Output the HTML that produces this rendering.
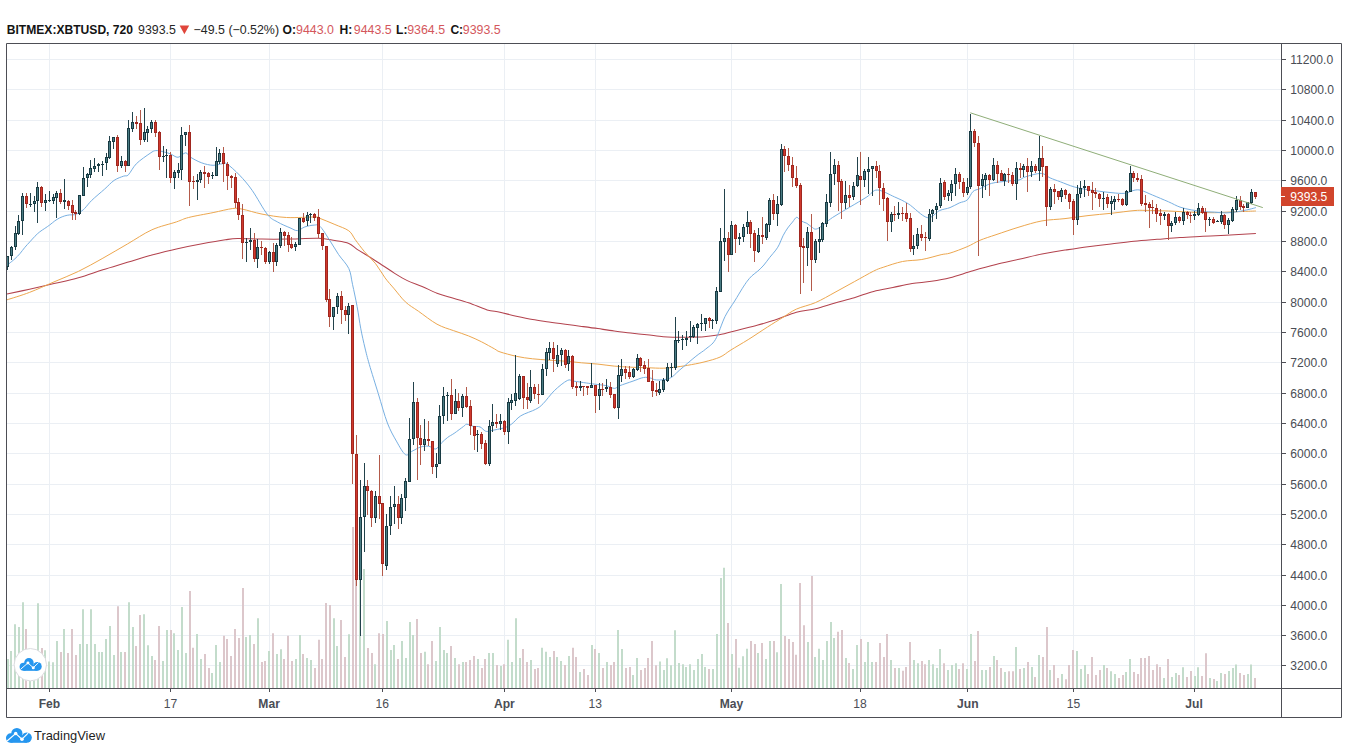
<!DOCTYPE html><html><head><meta charset="utf-8"><style>
*{margin:0;padding:0}
html,body{width:1348px;height:754px;background:#fff;overflow:hidden}
body{position:relative;font-family:"Liberation Sans",sans-serif}
svg{position:absolute;left:0;top:0}
.g{stroke:#ebeff4;stroke-width:1}
.vu{stroke:#c3dccb;stroke-width:2;fill:none}
.vd{stroke:#dcc7cb;stroke-width:2;fill:none}
.mr{stroke:#b3434e;stroke-width:1.05;fill:none}
.mo{stroke:#eda74f;stroke-width:1;fill:none}
.mb{stroke:#78b0e2;stroke-width:1;fill:none}
.wu{stroke:#22424b;stroke-width:1;fill:none}
.wd{stroke:#b35a4a;stroke-width:1;fill:none}
.bu{fill:#183a42}
.bd{fill:#a0271f}
.iu{fill:#4a7c84}
.id{fill:#d0392d}
.tl{stroke:#8fae78;stroke-width:1}
.fr{stroke:#4d4e55;stroke-width:1;fill:none}
.tk{stroke:#4d4e55;stroke-width:1}
.al{font-size:12.1px;fill:#4a4d55}
.tl2{font-size:12.1px;fill:#4a4d55}
.b{font-weight:bold}
.hd{position:absolute;top:22px;font-size:12.4px;line-height:16px;white-space:nowrap;color:#262626}
.hb{font-weight:bold;font-size:12.1px;color:#141414}
.r{color:#d4575c}
.tv{position:absolute;left:34px;top:727.5px;font-size:12.9px;line-height:16px;color:#1f1f1f}
</style></head><body><svg width="1348" height="754" viewBox="0 0 1348 754"><line x1="7" y1="59.5" x2="1281" y2="59.5" class="g"/><line x1="7" y1="89.5" x2="1281" y2="89.5" class="g"/><line x1="7" y1="120.5" x2="1281" y2="120.5" class="g"/><line x1="7" y1="150.5" x2="1281" y2="150.5" class="g"/><line x1="7" y1="180.5" x2="1281" y2="180.5" class="g"/><line x1="7" y1="211.5" x2="1281" y2="211.5" class="g"/><line x1="7" y1="241.5" x2="1281" y2="241.5" class="g"/><line x1="7" y1="271.5" x2="1281" y2="271.5" class="g"/><line x1="7" y1="302.5" x2="1281" y2="302.5" class="g"/><line x1="7" y1="332.5" x2="1281" y2="332.5" class="g"/><line x1="7" y1="362.5" x2="1281" y2="362.5" class="g"/><line x1="7" y1="393.5" x2="1281" y2="393.5" class="g"/><line x1="7" y1="423.5" x2="1281" y2="423.5" class="g"/><line x1="7" y1="453.5" x2="1281" y2="453.5" class="g"/><line x1="7" y1="484.5" x2="1281" y2="484.5" class="g"/><line x1="7" y1="514.5" x2="1281" y2="514.5" class="g"/><line x1="7" y1="544.5" x2="1281" y2="544.5" class="g"/><line x1="7" y1="575.5" x2="1281" y2="575.5" class="g"/><line x1="7" y1="605.5" x2="1281" y2="605.5" class="g"/><line x1="7" y1="635.5" x2="1281" y2="635.5" class="g"/><line x1="7" y1="665.5" x2="1281" y2="665.5" class="g"/><line x1="49.5" y1="44" x2="49.5" y2="688" class="g"/><line x1="170.5" y1="44" x2="170.5" y2="688" class="g"/><line x1="269.5" y1="44" x2="269.5" y2="688" class="g"/><line x1="382.5" y1="44" x2="382.5" y2="688" class="g"/><line x1="504.5" y1="44" x2="504.5" y2="688" class="g"/><line x1="595.5" y1="44" x2="595.5" y2="688" class="g"/><line x1="731.5" y1="44" x2="731.5" y2="688" class="g"/><line x1="860.5" y1="44" x2="860.5" y2="688" class="g"/><line x1="967.5" y1="44" x2="967.5" y2="688" class="g"/><line x1="1073.5" y1="44" x2="1073.5" y2="688" class="g"/><line x1="1194.5" y1="44" x2="1194.5" y2="688" class="g"/><path d="M8,688V659.0M11,688V651.0M15,688V624.2M19,688V627.1M23,688V602.2M30,688V660.0M34,688V662.0M38,688V603.3M45,688V650.3M49,688V661.4M53,688V662.3M57,688V641.1M64,688V629.1M80,688V644.1M83,688V609.2M87,688V644.1M91,688V609.2M95,688V644.1M99,688V652.1M102,688V652.1M106,688V639.1M110,688V626.1M114,688V655.0M121,688V652.1M129,688V602.2M133,688V627.1M144,688V614.3M148,688V645.2M152,688V655.9M163,688V661.0M167,688V630.0M174,688V633.2M178,688V650.0M182,688V607.0M186,688V652.9M197,688V634.0M201,688V659.1M212,688V673.1M216,688V644.9M220,688V662.0M246,688V636.9M250,688V635.1M258,688V618.2M269,688V651.0M277,688V654.1M281,688V649.3M296,688V659.1M300,688V635.1M307,688V658.0M311,688V660.0M334,688V618.2M337,688V645.9M349,688V634.3M360,688V535.0M364,688V569.0M375,688V664.2M387,688V621.1M391,688V650.0M394,688V644.9M402,688V641.0M406,688V658.0M410,688V622.0M413,688V635.1M425,688V651.8M436,688V661.0M440,688V627.0M444,688V650.0M447,688V652.9M455,688V658.0M463,688V662.0M478,688V659.1M489,688V652.9M493,688V652.9M501,688V666.1M508,688V639.8M512,688V662.0M516,688V618.2M520,688V658.0M531,688V660.0M542,688V647.8M546,688V651.8M550,688V656.9M557,688V657.0M561,688V661.0M569,688V655.9M580,688V671.9M592,688V644.9M599,688V652.9M607,688V662.0M618,688V629.9M622,688V648.9M633,688V675.1M637,688V658.0M660,688V661.4M664,688V670.0M667,688V658.3M671,688V665.2M675,688V630.3M679,688V663.1M683,688V664.3M686,688V666.9M690,688V664.3M694,688V670.0M698,688V659.1M702,688V654.0M705,688V666.9M713,688V669.0M717,688V634.1M721,688V578.1M724,688V567.8M732,688V654.0M739,688V667.8M743,688V656.2M747,688V648.8M758,688V653.1M766,688V659.1M770,688V641.0M777,688V652.2M781,688V584.1M808,688V641.9M815,688V656.9M819,688V648.8M823,688V660.0M827,688V641.0M831,688V622.0M834,688V638.1M846,688V658.0M853,688V669.0M857,688V644.9M865,688V662.0M868,688V642.0M872,688V662.0M891,688V659.9M899,688V668.0M914,688V659.9M918,688V663.2M929,688V659.9M933,688V664.2M937,688V668.0M940,688V648.9M948,688V670.0M952,688V664.9M956,688V663.2M967,688V669.0M971,688V634.0M982,688V670.0M986,688V670.0M994,688V655.9M1005,688V671.9M1016,688V647.1M1024,688V668.0M1032,688V667.1M1039,688V655.1M1050,688V670.0M1062,688V674.1M1077,688V651.0M1081,688V669.0M1085,688V664.9M1104,688V664.9M1111,688V671.2M1115,688V674.1M1126,688V671.9M1130,688V659.1M1164,688V678.0M1172,688V677.1M1176,688V673.1M1183,688V667.2M1195,688V676.0M1198,688V667.2M1210,688V678.0M1217,688V681.1M1221,688V673.1M1229,688V671.1M1233,688V668.1M1236,688V664.4M1248,688V674.0M1251,688V664.4" class="vu"/><path d="M26,688V629.1M42,688V648.1M61,688V652.1M68,688V653.0M72,688V629.1M76,688V655.0M118,688V606.2M125,688V652.1M136,688V645.9M140,688V615.0M155,688V659.9M159,688V626.0M171,688V630.0M190,688V590.9M193,688V647.8M205,688V654.1M209,688V668.0M224,688V635.7M227,688V639.1M231,688V655.9M235,688V628.9M239,688V638.1M243,688V588.0M254,688V643.9M262,688V662.0M265,688V661.0M273,688V633.2M284,688V659.1M288,688V635.7M292,688V661.0M303,688V654.1M315,688V668.0M319,688V639.8M322,688V659.1M326,688V603.0M330,688V605.1M341,688V620.1M345,688V657.0M353,688V527.0M356,688V545.0M368,688V648.0M372,688V653.0M379,688V633.2M383,688V634.0M398,688V659.1M417,688V619.1M421,688V652.9M428,688V664.2M432,688V641.0M451,688V645.9M459,688V664.2M466,688V662.0M470,688V660.0M474,688V655.9M482,688V668.0M485,688V659.1M497,688V664.9M504,688V664.2M523,688V648.9M527,688V662.0M535,688V669.0M538,688V668.0M554,688V651.0M565,688V664.9M573,688V647.8M576,688V657.0M584,688V669.0M588,688V675.1M595,688V648.9M603,688V668.0M611,688V664.9M614,688V662.0M626,688V668.0M630,688V667.1M641,688V670.0M645,688V668.0M648,688V658.0M652,688V641.0M656,688V665.2M709,688V669.0M728,688V622.9M736,688V639.0M751,688V641.0M755,688V644.1M762,688V643.1M774,688V641.0M785,688V635.9M789,688V639.0M793,688V641.9M796,688V654.8M800,688V582.9M804,688V625.2M812,688V575.9M838,688V631.8M842,688V629.9M849,688V662.9M861,688V639.1M876,688V662.0M880,688V643.0M884,688V656.9M887,688V634.0M895,688V668.0M903,688V670.7M906,688V667.1M910,688V642.0M922,688V661.0M925,688V664.2M944,688V663.2M959,688V669.0M963,688V663.2M975,688V661.0M978,688V631.1M990,688V667.1M997,688V659.9M1001,688V668.0M1009,688V671.2M1013,688V671.2M1020,688V669.0M1028,688V662.0M1035,688V677.0M1043,688V657.0M1047,688V627.0M1054,688V664.9M1058,688V678.0M1066,688V679.2M1069,688V664.9M1073,688V650.0M1088,688V674.1M1092,688V657.0M1096,688V675.1M1100,688V670.0M1107,688V668.0M1119,688V678.0M1123,688V675.1M1134,688V671.9M1138,688V674.1M1141,688V658.0M1145,688V658.0M1149,688V656.1M1153,688V670.0M1157,688V664.2M1160,688V667.1M1168,688V659.1M1179,688V675.1M1187,688V677.1M1191,688V671.1M1202,688V676.0M1206,688V653.2M1214,688V679.0M1225,688V674.0M1240,688V673.1M1244,688V675.1M1255,688V678.0" class="vd"/><path d="M7.0,294.1 C10.8,293.3 21.7,290.9 29.5,289.2 C37.3,287.4 45.9,285.5 54.0,283.6 C62.1,281.7 70.2,280.0 78.4,277.7 C86.6,275.4 94.7,272.3 102.9,269.7 C111.1,267.1 119.2,264.8 127.4,262.3 C135.6,259.9 143.7,257.2 151.9,255.0 C160.1,252.8 168.2,250.7 176.4,248.9 C184.6,247.1 192.7,245.5 200.8,244.0 C209.0,242.5 219.2,240.7 225.3,239.8 C231.4,238.9 231.5,238.7 237.6,238.6 C243.7,238.5 253.8,239.0 262.0,239.1 C270.1,239.2 277.1,239.2 286.5,239.1 C295.9,239.0 310.2,238.1 318.3,238.3 C326.4,238.6 329.8,239.8 334.9,240.6 C340.0,241.4 345.1,241.9 348.8,243.4 C352.5,244.9 353.6,247.1 357.1,249.4 C360.7,251.7 365.8,254.6 370.1,257.3 C374.4,260.0 379.1,263.1 383.1,265.7 C387.1,268.3 390.3,270.6 394.3,273.1 C398.3,275.6 402.7,278.4 407.3,280.6 C411.9,282.8 417.2,284.4 422.1,286.5 C427.1,288.6 432.4,291.4 437.0,293.2 C441.6,295.0 444.8,295.7 450.0,297.3 C455.2,298.9 462.3,300.7 468.5,302.8 C474.7,304.9 481.9,308.3 487.1,309.9 C492.4,311.5 495.1,311.1 500.0,312.2 C504.9,313.3 510.9,315.1 516.3,316.3 C521.7,317.5 527.1,318.7 532.6,319.6 C538.1,320.6 543.5,321.2 549.0,322.0 C554.5,322.8 559.9,323.5 565.3,324.2 C570.7,324.9 576.2,325.7 581.6,326.4 C587.0,327.1 592.5,327.8 597.9,328.6 C603.3,329.4 608.8,330.3 614.2,331.0 C619.7,331.7 625.2,332.4 630.6,333.0 C636.0,333.6 641.5,334.2 646.9,334.8 C652.3,335.4 658.6,336.3 663.2,336.7 C667.8,337.1 670.5,337.1 674.6,337.2 C678.7,337.3 682.8,337.3 687.7,337.2 C692.6,337.1 698.7,337.1 704.0,336.7 C709.3,336.3 713.5,335.9 719.3,334.8 C725.1,333.7 732.2,331.5 738.6,329.9 C745.0,328.3 751.5,326.9 757.9,325.1 C764.3,323.3 770.7,321.5 777.1,319.3 C783.5,317.1 790.0,314.0 796.4,312.2 C802.8,310.4 809.3,310.2 815.7,308.7 C822.1,307.1 828.6,304.7 835.0,302.9 C841.4,301.1 847.9,299.6 854.3,297.7 C860.7,295.8 867.2,293.1 873.6,291.4 C880.0,289.7 886.5,288.8 892.9,287.5 C899.3,286.2 905.7,284.6 912.1,283.6 C918.5,282.6 925.1,282.3 931.4,281.3 C937.7,280.3 943.1,279.4 950.0,277.7 C956.9,275.9 965.3,273.0 973.0,270.8 C980.7,268.6 988.3,266.5 996.0,264.6 C1003.7,262.7 1011.3,261.1 1019.0,259.3 C1026.7,257.6 1034.3,255.6 1042.0,254.1 C1049.7,252.6 1057.3,251.3 1065.0,250.1 C1072.7,248.9 1080.3,247.7 1088.0,246.7 C1095.7,245.7 1103.3,244.8 1111.0,243.9 C1118.7,243.0 1126.3,242.0 1134.0,241.2 C1141.7,240.4 1149.3,239.9 1157.0,239.3 C1164.7,238.7 1172.3,238.0 1180.0,237.5 C1187.7,237.0 1195.3,236.7 1203.0,236.3 C1210.7,235.9 1217.2,235.6 1226.0,235.2 C1234.8,234.8 1250.9,233.9 1255.9,233.6" class="mr"/><path d="M7.0,299.8 C10.8,298.6 21.7,295.4 29.5,292.4 C37.3,289.4 45.9,285.4 54.0,281.9 C62.1,278.4 70.2,275.3 78.4,271.4 C86.6,267.4 94.7,262.8 102.9,258.2 C111.1,253.6 119.2,248.7 127.4,244.0 C135.6,239.3 143.7,233.5 151.9,229.8 C160.1,226.1 170.3,224.0 176.4,221.9 C182.5,219.8 182.5,219.1 188.6,217.5 C194.7,215.9 205.8,214.1 213.1,212.6 C220.4,211.1 227.8,209.1 232.7,208.5 C237.6,207.9 237.6,208.3 242.5,209.2 C247.4,210.1 254.7,212.7 262.0,214.1 C269.3,215.5 277.5,217.0 286.5,217.5 C295.5,218.0 310.3,216.8 315.9,217.0 C321.5,217.2 316.8,217.2 320.0,218.4 C323.2,219.7 330.1,222.4 334.9,224.5 C339.7,226.6 345.4,228.3 348.8,230.8 C352.2,233.3 352.7,236.2 355.3,239.7 C357.9,243.2 361.2,247.8 364.6,251.8 C368.0,255.8 372.3,259.5 375.7,263.8 C379.1,268.1 381.9,273.6 385.0,277.8 C388.1,282.0 390.9,284.9 394.3,288.9 C397.7,292.9 401.4,298.2 405.4,301.9 C409.4,305.6 413.1,307.5 418.4,311.2 C423.7,314.9 431.1,320.9 437.0,324.2 C442.9,327.4 448.4,328.8 453.7,330.7 C458.9,332.6 463.9,334.0 468.5,335.9 C473.1,337.8 477.2,339.6 481.5,341.8 C485.8,344.0 491.4,347.2 494.5,348.9 C497.6,350.6 496.4,350.7 500.0,351.9 C503.6,353.1 510.9,355.1 516.3,356.3 C521.7,357.5 527.1,358.2 532.6,358.8 C538.1,359.4 543.5,359.7 549.0,360.1 C554.5,360.5 559.9,360.8 565.3,361.2 C570.7,361.6 576.2,362.3 581.6,362.8 C587.0,363.3 592.5,363.6 597.9,364.1 C603.3,364.7 608.8,365.6 614.2,366.1 C619.7,366.6 625.2,366.9 630.6,367.2 C636.0,367.5 641.5,367.5 646.9,367.7 C652.3,367.9 658.6,368.3 663.2,368.2 C667.8,368.1 670.5,367.7 674.6,367.2 C678.7,366.7 682.8,366.2 687.7,365.3 C692.6,364.4 698.6,363.4 704.0,362.0 C709.4,360.6 715.5,359.1 720.0,357.1 C724.5,355.1 726.2,352.9 730.9,350.0 C735.6,347.1 742.1,343.4 748.2,339.6 C754.3,335.8 761.7,330.7 767.5,327.0 C773.3,323.3 778.1,320.4 782.9,317.4 C787.7,314.4 790.9,311.6 796.4,309.1 C801.9,306.6 809.3,305.3 815.7,302.5 C822.1,299.7 828.6,295.8 835.0,292.3 C841.4,288.8 847.9,285.2 854.3,281.7 C860.7,278.2 868.8,273.5 873.6,271.1 C878.4,268.7 878.4,268.9 883.2,267.3 C888.0,265.7 896.1,262.8 902.5,261.5 C908.9,260.2 915.4,260.6 921.8,259.5 C928.2,258.4 936.4,255.8 941.1,254.7 C945.8,253.6 945.6,254.4 950.0,253.1 C954.4,251.8 962.2,248.8 967.2,246.7 C972.2,244.6 975.1,242.3 979.9,240.3 C984.7,238.3 989.5,236.9 996.0,234.7 C1002.5,232.5 1011.3,229.4 1019.0,227.1 C1026.7,224.8 1034.3,222.3 1042.0,220.9 C1049.7,219.5 1057.3,219.5 1065.0,218.6 C1072.7,217.7 1080.3,216.5 1088.0,215.6 C1095.7,214.7 1103.3,214.1 1111.0,213.3 C1118.7,212.5 1128.2,211.1 1134.0,210.6 C1139.8,210.1 1139.8,210.3 1145.5,210.4 C1151.2,210.5 1160.8,210.7 1168.5,211.0 C1176.2,211.3 1183.8,211.9 1191.5,212.2 C1199.2,212.5 1206.8,212.8 1214.5,212.7 C1222.2,212.6 1230.6,212.0 1237.5,211.7 C1244.4,211.4 1252.8,211.1 1255.9,211.0" class="mo"/><path d="M7.0,265.5 C7.3,265.2 7.7,264.8 9.0,263.7 C10.3,262.6 13.2,260.4 15.0,258.7 C16.8,257.0 18.2,255.6 19.9,253.7 C21.5,251.8 23.2,249.3 24.9,247.3 C26.6,245.3 28.2,243.6 29.9,241.8 C31.6,240.0 33.2,238.0 34.9,236.3 C36.5,234.6 38.1,233.1 39.8,231.8 C41.4,230.5 43.1,229.6 44.8,228.4 C46.5,227.2 48.1,226.2 49.8,224.9 C51.5,223.7 53.1,222.1 54.8,220.9 C56.4,219.7 58.1,218.7 59.7,217.9 C61.4,217.1 63.0,216.4 64.7,215.9 C66.4,215.4 68.0,215.1 69.7,214.9 C71.4,214.7 73.1,215.1 74.7,214.7 C76.3,214.3 77.9,213.4 79.6,212.4 C81.2,211.4 82.6,210.5 84.6,208.5 C86.6,206.5 88.5,203.5 91.8,200.3 C95.1,197.1 100.9,192.4 104.6,189.1 C108.3,185.8 110.9,182.6 114.1,180.4 C117.3,178.2 121.3,177.0 123.7,176.1 C126.1,175.2 126.3,176.9 128.4,174.8 C130.5,172.7 132.8,167.3 136.4,163.7 C140.0,160.1 146.9,155.5 150.1,153.3 C153.3,151.1 153.6,150.9 155.7,150.6 C157.8,150.3 160.5,151.2 162.9,151.7 C165.3,152.2 167.8,152.9 170.3,153.8 C172.8,154.7 175.4,157.5 178.0,157.3 C180.6,157.1 183.5,152.8 185.6,152.8 C187.7,152.8 188.0,155.6 190.7,157.3 C193.4,159.0 198.1,161.6 201.8,162.9 C205.5,164.2 209.6,165.2 213.0,165.3 C216.4,165.4 220.2,163.9 222.5,163.7 C224.8,163.5 224.2,162.0 227.0,163.9 C229.8,165.8 235.4,170.8 239.6,175.2 C243.8,179.6 247.6,183.9 252.2,190.4 C256.8,196.9 263.1,209.1 267.3,214.3 C271.5,219.6 273.6,219.7 277.4,221.9 C281.2,224.2 286.7,226.4 290.0,227.8 C293.3,229.2 294.9,230.8 297.4,230.6 C299.9,230.4 302.1,227.8 304.9,226.9 C307.7,226.0 311.6,225.2 314.1,225.1 C316.6,225.0 317.5,223.9 320.0,226.3 C322.5,228.7 326.2,235.0 329.3,239.7 C332.4,244.4 335.4,249.8 338.6,254.6 C341.9,259.4 346.5,263.6 348.8,268.5 C351.1,273.4 351.1,278.0 352.5,284.3 C353.9,290.6 355.7,299.1 357.1,306.5 C358.5,313.9 359.5,321.9 360.8,328.8 C362.1,335.7 363.6,342.1 365.0,348.0 C366.4,353.9 367.1,356.8 369.3,364.4 C371.5,372.0 375.3,383.9 378.3,393.7 C381.3,403.5 384.4,415.1 387.4,423.0 C390.4,430.9 393.4,435.8 396.4,441.1 C399.4,446.4 402.8,452.9 405.4,454.6 C408.0,456.3 409.6,452.5 412.2,451.2 C414.8,449.9 418.0,447.8 420.7,447.0 C423.4,446.2 426.1,445.9 428.6,446.2 C431.1,446.5 433.7,449.5 435.8,449.0 C437.9,448.5 439.4,444.9 441.4,443.0 C443.4,441.1 445.6,439.0 447.7,437.4 C449.8,435.8 451.4,435.2 454.1,433.4 C456.8,431.5 461.6,427.8 463.7,426.3 C465.8,424.8 465.2,424.2 466.8,424.2 C468.4,424.2 471.0,425.9 473.2,426.3 C475.4,426.8 477.9,426.1 480.0,426.9 C482.1,427.7 483.8,430.6 485.6,431.2 C487.5,431.8 488.0,431.2 491.1,430.6 C494.2,430.0 500.7,428.9 504.1,427.8 C507.5,426.7 508.8,426.1 511.6,424.1 C514.4,422.1 516.8,418.3 520.8,415.8 C524.8,413.3 532.0,411.3 535.7,409.3 C539.4,407.3 540.0,406.8 543.1,403.7 C546.2,400.6 550.3,394.6 554.3,390.7 C558.3,386.8 564.1,382.1 567.3,380.5 C570.5,378.9 570.1,380.7 573.3,381.1 C576.5,381.5 583.0,382.5 586.5,383.0 C590.0,383.5 591.2,383.7 594.5,384.1 C597.8,384.6 603.1,385.0 606.4,385.7 C609.7,386.4 612.2,388.4 614.4,388.4 C616.6,388.4 616.6,386.9 619.7,385.7 C622.8,384.5 629.0,382.5 633.0,381.1 C637.0,379.7 640.7,378.0 643.6,377.5 C646.5,377.0 648.0,377.6 650.2,378.0 C652.4,378.4 653.5,379.9 656.7,380.0 C660.0,380.1 665.9,379.9 669.7,378.3 C673.5,376.7 675.1,373.9 679.5,370.2 C683.9,366.5 691.5,359.8 695.9,356.3 C700.3,352.8 702.5,351.8 705.8,349.0 C709.0,346.2 712.2,345.0 715.4,339.6 C718.6,334.2 721.9,322.8 725.1,316.4 C728.3,310.0 731.8,305.7 734.7,301.0 C737.6,296.3 740.3,291.6 742.4,288.3 C744.5,285.0 745.6,283.3 747.2,281.2 C748.8,279.1 750.1,277.5 751.9,275.8 C753.7,274.1 755.9,272.8 757.9,271.0 C759.9,269.2 761.9,267.3 763.9,265.0 C765.9,262.7 767.8,259.8 769.8,257.3 C771.8,254.8 774.2,252.3 775.8,250.1 C777.4,247.9 778.2,246.6 779.4,244.2 C780.6,241.8 781.6,238.5 783.0,235.8 C784.4,233.1 786.1,230.3 787.7,228.0 C789.3,225.7 791.0,223.9 792.5,222.1 C794.0,220.3 795.3,217.5 796.7,217.3 C798.1,217.1 799.2,219.9 800.9,220.9 C802.6,221.9 805.0,222.3 806.8,223.3 C808.6,224.3 809.8,226.0 811.6,226.9 C813.4,227.8 814.1,230.2 817.6,228.6 C821.1,227.0 827.0,221.2 832.4,217.6 C837.8,214.0 844.0,210.6 849.7,207.2 C855.5,203.8 862.3,199.8 866.9,196.9 C871.5,194.0 872.6,190.0 877.2,190.0 C881.8,190.0 889.3,194.6 894.5,196.9 C899.7,199.2 902.8,200.4 908.3,203.8 C913.8,207.2 922.0,216.4 927.2,217.6 C932.4,218.8 935.5,212.4 939.3,210.7 C943.1,209.0 946.7,208.9 950.0,207.6 C953.3,206.3 956.3,204.3 959.2,203.0 C962.1,201.7 964.9,201.9 967.2,200.0 C969.5,198.1 970.9,193.4 973.0,191.5 C975.1,189.6 976.8,190.0 979.9,188.7 C983.0,187.3 986.8,184.7 991.4,183.4 C996.0,182.1 1002.9,181.7 1007.5,181.1 C1012.1,180.5 1016.0,180.7 1019.0,180.0 C1022.0,179.3 1021.9,177.9 1025.6,176.8 C1029.3,175.7 1037.1,173.2 1041.2,173.4 C1045.3,173.6 1046.9,176.5 1050.1,177.9 C1053.3,179.3 1056.4,180.3 1060.4,181.8 C1064.4,183.3 1069.6,185.6 1074.2,186.9 C1078.8,188.2 1081.9,188.8 1088.0,189.7 C1094.1,190.6 1104.9,192.0 1111.0,192.6 C1117.1,193.2 1121.0,193.7 1124.8,193.3 C1128.6,192.9 1131.3,190.8 1134.0,190.3 C1136.7,189.8 1137.8,189.5 1140.9,190.3 C1144.0,191.1 1147.8,193.1 1152.4,195.0 C1157.0,196.9 1163.9,199.8 1168.5,201.8 C1173.1,203.8 1176.2,205.8 1180.0,207.1 C1183.8,208.4 1187.7,209.2 1191.5,209.9 C1195.3,210.6 1199.2,211.1 1203.0,211.5 C1206.8,211.9 1210.7,212.0 1214.5,212.2 C1218.3,212.4 1222.2,213.0 1226.0,212.9 C1229.8,212.8 1233.7,212.3 1237.5,211.7 C1241.3,211.1 1245.9,210.1 1249.0,209.4 C1252.1,208.7 1254.8,207.9 1255.9,207.6" class="mb"/><path d="M7.5,256V270M11.5,246V260M15.5,226V250M18.5,215V235M22.5,193V235M30.5,193V207M34.5,196V212M37.5,182V223M45.5,194V211M49.5,191V202M53.5,194V204M56.5,191V218M64.5,179V209M79.5,195V215M83.5,167V196M87.5,173V187M90.5,160V178M94.5,158V172M98.5,163V172M102.5,161V176M106.5,153V170M109.5,136V159M113.5,137V149M121.5,156V168M128.5,120V166M132.5,112V132M144.5,108V142M147.5,126V142M151.5,120V133M163.5,146V162M166.5,149V178M174.5,170V189M178.5,163V178M181.5,127V180M185.5,132V146M197.5,174V200M200.5,170V183M212.5,172V179M216.5,147V176M219.5,149V164M246.5,238V262M250.5,228V250M257.5,239V268M269.5,251V264M276.5,243V266M280.5,228V248M295.5,242V251M299.5,218V245M307.5,212V226M310.5,213V223M333.5,307V330M337.5,293V314M348.5,303V334M360.5,480V636M364.5,463V552M375.5,491V523M386.5,514V570M390.5,496V535M394.5,486V524M401.5,494V524M405.5,478V511M409.5,418V482M413.5,382V445M424.5,419V451M436.5,453V478M439.5,405V464M443.5,387V424M447.5,392V421M455.5,389V414M462.5,394V417M477.5,430V452M489.5,420V466M492.5,404V432M500.5,414V430M508.5,398V444M511.5,394V410M515.5,355V406M519.5,374V400M530.5,370V403M542.5,364V395M546.5,348V376M549.5,342V360M557.5,345V367M561.5,348V366M568.5,350V371M580.5,381V391M591.5,363V388M599.5,383V410M606.5,379V392M618.5,365V419M621.5,359V382M633.5,368V378M637.5,354V371M659.5,381V395M663.5,378V392M667.5,363V382M671.5,363V377M675.5,317V370M678.5,331V343M682.5,335V350M686.5,331V346M690.5,321V342M693.5,325V338M697.5,323V344M701.5,314V331M705.5,318V331M712.5,319V329M716.5,287V324M720.5,228V292M724.5,189V261M731.5,221V255M739.5,233V245M743.5,224V242M747.5,211V234M758.5,228V253M766.5,223V240M769.5,198V232M777.5,196V226M781.5,144V206M807.5,227V266M815.5,239V263M819.5,227V253M822.5,222V242M826.5,194V227M830.5,152V207M834.5,159V185M845.5,181V209M853.5,182V200M857.5,157V187M864.5,169V187M868.5,157V194M872.5,166V196M891.5,212V232M898.5,202V219M913.5,235V255M917.5,228V249M929.5,209V241M932.5,209V222M936.5,203V219M940.5,178V208M948.5,190V201M951.5,180V201M955.5,168V196M967.5,178V195M970.5,114V189M982.5,174V198M985.5,173V190M993.5,158V181M1004.5,173V186M1016.5,162V200M1023.5,164V177M1031.5,161V177M1039.5,136V181M1050.5,187V210M1061.5,188V202M1077.5,185V225M1080.5,181V198M1084.5,180V197M1103.5,192V210M1111.5,196V215M1114.5,196V210M1126.5,190V206M1130.5,166V192M1164.5,212V220M1171.5,221V232M1175.5,212V225M1183.5,208V225M1194.5,211V220M1198.5,203V216M1209.5,217V226M1217.5,220V222M1221.5,211V224M1228.5,218V234M1232.5,207V222M1236.5,196V212M1247.5,202V208M1251.5,189V204" class="wu"/><path d="M26.5,193V208M41.5,186V207M60.5,189V204M68.5,200V210M72.5,200V220M75.5,210V220M117.5,135V172M125.5,160V172M136.5,116V129M140.5,110V145M155.5,120V137M159.5,131V170M170.5,152V183M189.5,125V206M193.5,176V189M204.5,166V188M208.5,172V184M223.5,147V182M227.5,162V190M231.5,175V188M235.5,173V208M238.5,198V220M242.5,204V259M254.5,233V262M261.5,241V255M265.5,247V264M273.5,243V272M284.5,231V246M288.5,232V252M291.5,237V249M303.5,213V223M314.5,213V221M318.5,209V238M322.5,233V250M326.5,246V302M329.5,289V327M341.5,291V324M345.5,306V321M352.5,305V484M356.5,435V586M367.5,480V515M371.5,490V527M379.5,455V519M382.5,503V576M398.5,496V529M417.5,398V480M420.5,425V465M428.5,421V446M432.5,441V474M451.5,379V420M458.5,393V411M466.5,387V408M470.5,400V435M474.5,426V450M481.5,432V449M485.5,440V465M496.5,414V428M504.5,420V435M523.5,376V409M527.5,383V409M534.5,384V399M538.5,384V404M553.5,342V372M565.5,349V368M572.5,355V389M576.5,382V396M583.5,386V396M587.5,386V395M595.5,385V413M602.5,383V396M610.5,382V398M614.5,394V409M625.5,366V379M629.5,366V379M640.5,357V372M644.5,361V374M648.5,359V382M652.5,370V397M656.5,383V396M709.5,317V328M728.5,232V272M735.5,224V253M750.5,220V248M754.5,230V262M762.5,217V244M773.5,194V220M784.5,146V172M788.5,148V171M792.5,157V187M796.5,166V188M800.5,183V294M803.5,238V283M811.5,214V291M838.5,161V211M841.5,179V219M849.5,185V207M860.5,152V205M876.5,161V178M879.5,165V205M883.5,183V211M887.5,197V241M894.5,206V221M902.5,207V221M906.5,203V222M910.5,213V252M921.5,225V241M925.5,232V251M944.5,180V200M959.5,172V189M963.5,178V197M974.5,129V147M978.5,136V256M989.5,174V196M997.5,161V183M1001.5,170V181M1008.5,168V183M1012.5,172V186M1020.5,163V178M1027.5,158V192M1035.5,164V173M1042.5,146V177M1046.5,166V226M1054.5,184V204M1058.5,191V200M1065.5,189V199M1069.5,193V209M1073.5,199V235M1088.5,186V196M1092.5,182V210M1095.5,188V198M1099.5,193V207M1107.5,194V208M1118.5,194V202M1122.5,198V206M1133.5,171V182M1137.5,173V182M1141.5,175V206M1145.5,195V212M1149.5,202V228M1152.5,200V214M1156.5,204V222M1160.5,209V225M1168.5,213V240M1179.5,216V223M1187.5,211V219M1190.5,212V223M1202.5,206V214M1205.5,208V232M1213.5,217V224M1224.5,214V229M1240.5,196V210M1243.5,204V212M1255.5,192V199" class="wd"/><path d="M6,256h3v11h-3zM10,247h3v9h-3zM14,233h3v14h-3zM17,221h3v13h-3zM21,196h3v25h-3zM29,204h3v1h-3zM33,201h3v3h-3zM36,187h3v14h-3zM44,200h3v3h-3zM48,200h3v1h-3zM52,197h3v4h-3zM55,193h3v5h-3zM63,200h3v2h-3zM78,195h3v19h-3zM82,178h3v18h-3zM86,174h3v4h-3zM89,168h3v7h-3zM93,166h3v3h-3zM97,164h3v2h-3zM101,164h3v1h-3zM105,157h3v6h-3zM108,141h3v17h-3zM112,137h3v5h-3zM120,161h3v5h-3zM127,128h3v38h-3zM131,122h3v7h-3zM143,132h3v8h-3zM146,129h3v4h-3zM150,122h3v7h-3zM162,156h3v1h-3zM165,155h3v1h-3zM173,172h3v6h-3zM177,170h3v3h-3zM180,135h3v35h-3zM184,132h3v3h-3zM196,180h3v2h-3zM199,172h3v8h-3zM211,175h3v1h-3zM215,161h3v15h-3zM218,153h3v9h-3zM245,242h3v1h-3zM249,240h3v2h-3zM256,247h3v12h-3zM268,252h3v10h-3zM275,245h3v17h-3zM279,232h3v14h-3zM294,244h3v3h-3zM298,218h3v27h-3zM306,215h3v6h-3zM309,214h3v1h-3zM332,307h3v10h-3zM336,296h3v11h-3zM347,306h3v9h-3zM359,517h3v63h-3zM363,486h3v31h-3zM374,496h3v22h-3zM385,526h3v40h-3zM389,507h3v19h-3zM393,504h3v3h-3zM400,498h3v20h-3zM404,481h3v17h-3zM408,439h3v43h-3zM412,402h3v37h-3zM423,439h3v6h-3zM435,464h3v3h-3zM438,416h3v48h-3zM442,396h3v20h-3zM446,395h3v1h-3zM454,401h3v13h-3zM461,396h3v12h-3zM476,434h3v1h-3zM488,426h3v38h-3zM491,422h3v4h-3zM499,421h3v3h-3zM507,402h3v30h-3zM510,400h3v3h-3zM514,393h3v8h-3zM518,376h3v23h-3zM529,387h3v14h-3zM541,369h3v26h-3zM545,352h3v17h-3zM548,348h3v5h-3zM556,355h3v9h-3zM560,350h3v5h-3zM567,356h3v8h-3zM579,386h3v2h-3zM590,385h3v3h-3zM598,389h3v7h-3zM605,387h3v2h-3zM617,375h3v33h-3zM620,369h3v7h-3zM632,369h3v8h-3zM636,358h3v12h-3zM658,389h3v4h-3zM662,380h3v10h-3zM666,367h3v14h-3zM670,367h3v1h-3zM674,340h3v28h-3zM677,340h3v1h-3zM681,339h3v1h-3zM685,338h3v2h-3zM689,336h3v1h-3zM692,327h3v10h-3zM696,324h3v4h-3zM700,323h3v1h-3zM704,318h3v6h-3zM711,320h3v1h-3zM715,291h3v30h-3zM719,241h3v51h-3zM723,238h3v4h-3zM730,225h3v30h-3zM738,237h3v2h-3zM742,227h3v10h-3zM746,222h3v5h-3zM757,235h3v17h-3zM765,224h3v14h-3zM768,200h3v25h-3zM776,204h3v10h-3zM780,149h3v56h-3zM806,232h3v16h-3zM814,241h3v19h-3zM818,239h3v3h-3zM821,223h3v17h-3zM825,202h3v22h-3zM829,174h3v29h-3zM833,165h3v9h-3zM844,195h3v8h-3zM852,186h3v11h-3zM856,175h3v11h-3zM863,171h3v9h-3zM867,169h3v3h-3zM871,166h3v3h-3zM890,214h3v8h-3zM897,213h3v2h-3zM912,246h3v3h-3zM916,234h3v12h-3zM928,214h3v25h-3zM931,210h3v4h-3zM935,206h3v4h-3zM939,183h3v23h-3zM947,193h3v3h-3zM950,184h3v9h-3zM954,174h3v10h-3zM966,187h3v6h-3zM969,131h3v56h-3zM981,179h3v7h-3zM984,175h3v5h-3zM992,165h3v15h-3zM1003,174h3v7h-3zM1015,168h3v16h-3zM1022,166h3v4h-3zM1030,166h3v6h-3zM1038,158h3v13h-3zM1049,189h3v18h-3zM1060,190h3v7h-3zM1076,194h3v26h-3zM1079,188h3v6h-3zM1083,186h3v2h-3zM1102,198h3v1h-3zM1110,201h3v3h-3zM1113,199h3v3h-3zM1125,191h3v14h-3zM1129,173h3v19h-3zM1163,214h3v2h-3zM1170,223h3v3h-3zM1174,217h3v6h-3zM1182,212h3v9h-3zM1193,214h3v2h-3zM1197,208h3v7h-3zM1208,219h3v1h-3zM1216,221h3v1h-3zM1220,215h3v7h-3zM1227,220h3v5h-3zM1231,209h3v12h-3zM1235,200h3v10h-3zM1246,202h3v6h-3zM1250,192h3v11h-3z" class="bu"/><path d="M25,196h3v8h-3zM40,187h3v16h-3zM59,193h3v9h-3zM67,201h3v5h-3zM71,205h3v8h-3zM74,212h3v2h-3zM116,137h3v29h-3zM124,161h3v5h-3zM135,122h3v2h-3zM139,123h3v17h-3zM154,122h3v11h-3zM158,132h3v25h-3zM169,155h3v23h-3zM188,132h3v50h-3zM192,181h3v1h-3zM203,172h3v2h-3zM207,173h3v4h-3zM222,153h3v11h-3zM226,164h3v12h-3zM230,176h3v2h-3zM234,177h3v26h-3zM237,202h3v13h-3zM241,215h3v28h-3zM253,240h3v19h-3zM260,247h3v1h-3zM264,248h3v14h-3zM272,252h3v10h-3zM283,232h3v4h-3zM287,235h3v10h-3zM290,244h3v4h-3zM302,218h3v4h-3zM313,214h3v4h-3zM317,217h3v17h-3zM321,233h3v13h-3zM325,246h3v54h-3zM328,299h3v18h-3zM340,296h3v14h-3zM344,310h3v5h-3zM351,305h3v149h-3zM355,454h3v126h-3zM366,486h3v5h-3zM370,491h3v27h-3zM378,496h3v8h-3zM381,503h3v61h-3zM397,504h3v14h-3zM416,402h3v36h-3zM419,438h3v7h-3zM427,439h3v2h-3zM431,441h3v26h-3zM450,395h3v19h-3zM457,401h3v7h-3zM465,396h3v11h-3zM469,406h3v20h-3zM473,426h3v10h-3zM480,434h3v10h-3zM484,443h3v21h-3zM495,422h3v2h-3zM503,421h3v11h-3zM522,376h3v22h-3zM526,397h3v3h-3zM533,387h3v7h-3zM537,394h3v1h-3zM552,348h3v11h-3zM564,350h3v15h-3zM571,356h3v31h-3zM575,386h3v2h-3zM582,386h3v1h-3zM586,386h3v2h-3zM594,385h3v11h-3zM601,389h3v1h-3zM609,387h3v8h-3zM613,394h3v14h-3zM624,369h3v4h-3zM628,372h3v5h-3zM639,358h3v8h-3zM643,365h3v4h-3zM647,368h3v14h-3zM651,381h3v10h-3zM655,390h3v2h-3zM708,318h3v3h-3zM727,238h3v17h-3zM734,225h3v14h-3zM749,222h3v12h-3zM753,233h3v18h-3zM761,235h3v2h-3zM772,200h3v14h-3zM783,149h3v7h-3zM787,156h3v9h-3zM791,165h3v13h-3zM795,178h3v8h-3zM799,185h3v62h-3zM802,246h3v2h-3zM810,232h3v28h-3zM837,165h3v17h-3zM840,181h3v22h-3zM848,195h3v3h-3zM859,176h3v4h-3zM875,166h3v5h-3zM878,171h3v17h-3zM882,188h3v11h-3zM886,198h3v24h-3zM893,214h3v1h-3zM901,213h3v1h-3zM905,213h3v6h-3zM909,218h3v31h-3zM920,234h3v4h-3zM924,237h3v1h-3zM943,182h3v15h-3zM958,174h3v8h-3zM962,182h3v11h-3zM973,131h3v12h-3zM977,143h3v43h-3zM988,175h3v5h-3zM996,165h3v9h-3zM1000,173h3v8h-3zM1007,174h3v1h-3zM1011,175h3v9h-3zM1019,168h3v2h-3zM1026,166h3v6h-3zM1034,166h3v5h-3zM1041,158h3v9h-3zM1045,166h3v41h-3zM1053,189h3v3h-3zM1057,191h3v6h-3zM1064,190h3v5h-3zM1068,194h3v8h-3zM1072,201h3v19h-3zM1087,186h3v5h-3zM1091,190h3v3h-3zM1094,192h3v2h-3zM1098,194h3v5h-3zM1106,197h3v7h-3zM1117,199h3v1h-3zM1121,199h3v6h-3zM1132,173h3v5h-3zM1136,178h3v2h-3zM1140,179h3v25h-3zM1144,203h3v2h-3zM1148,204h3v4h-3zM1151,207h3v1h-3zM1155,208h3v6h-3zM1159,213h3v3h-3zM1167,214h3v12h-3zM1178,217h3v4h-3zM1186,212h3v3h-3zM1189,215h3v1h-3zM1201,208h3v5h-3zM1204,212h3v8h-3zM1212,219h3v4h-3zM1223,215h3v10h-3zM1239,200h3v7h-3zM1242,206h3v2h-3zM1254,192h3v5h-3z" class="bd"/><path d="M7,257h1v9h-1zM11,248h1v7h-1zM15,234h1v12h-1zM18,222h1v11h-1zM22,197h1v23h-1zM34,202h1v1h-1zM37,188h1v12h-1zM45,201h1v1h-1zM53,198h1v2h-1zM56,194h1v3h-1zM79,196h1v17h-1zM83,179h1v16h-1zM87,175h1v2h-1zM90,169h1v5h-1zM94,167h1v1h-1zM106,158h1v4h-1zM109,142h1v15h-1zM113,138h1v3h-1zM121,162h1v3h-1zM128,129h1v36h-1zM132,123h1v5h-1zM144,133h1v6h-1zM147,130h1v2h-1zM151,123h1v5h-1zM174,173h1v4h-1zM178,171h1v1h-1zM181,136h1v33h-1zM185,133h1v1h-1zM200,173h1v6h-1zM216,162h1v13h-1zM219,154h1v7h-1zM257,248h1v10h-1zM269,253h1v8h-1zM276,246h1v15h-1zM280,233h1v12h-1zM295,245h1v1h-1zM299,219h1v25h-1zM307,216h1v4h-1zM333,308h1v8h-1zM337,297h1v9h-1zM348,307h1v7h-1zM360,518h1v61h-1zM364,487h1v29h-1zM375,497h1v20h-1zM386,527h1v38h-1zM390,508h1v17h-1zM394,505h1v1h-1zM401,499h1v18h-1zM405,482h1v15h-1zM409,440h1v41h-1zM413,403h1v35h-1zM424,440h1v4h-1zM436,465h1v1h-1zM439,417h1v46h-1zM443,397h1v18h-1zM455,402h1v11h-1zM462,397h1v10h-1zM489,427h1v36h-1zM492,423h1v2h-1zM500,422h1v1h-1zM508,403h1v28h-1zM511,401h1v1h-1zM515,394h1v6h-1zM519,377h1v21h-1zM530,388h1v12h-1zM542,370h1v24h-1zM546,353h1v15h-1zM549,349h1v3h-1zM557,356h1v7h-1zM561,351h1v3h-1zM568,357h1v6h-1zM591,386h1v1h-1zM599,390h1v5h-1zM618,376h1v31h-1zM621,370h1v5h-1zM633,370h1v6h-1zM637,359h1v10h-1zM659,390h1v2h-1zM663,381h1v8h-1zM667,368h1v12h-1zM675,341h1v26h-1zM693,328h1v8h-1zM697,325h1v2h-1zM705,319h1v4h-1zM716,292h1v28h-1zM720,242h1v49h-1zM724,239h1v2h-1zM731,226h1v28h-1zM743,228h1v8h-1zM747,223h1v3h-1zM758,236h1v15h-1zM766,225h1v12h-1zM769,201h1v23h-1zM777,205h1v8h-1zM781,150h1v54h-1zM807,233h1v14h-1zM815,242h1v17h-1zM819,240h1v1h-1zM822,224h1v15h-1zM826,203h1v20h-1zM830,175h1v27h-1zM834,166h1v7h-1zM845,196h1v6h-1zM853,187h1v9h-1zM857,176h1v9h-1zM864,172h1v7h-1zM868,170h1v1h-1zM872,167h1v1h-1zM891,215h1v6h-1zM913,247h1v1h-1zM917,235h1v10h-1zM929,215h1v23h-1zM932,211h1v2h-1zM936,207h1v2h-1zM940,184h1v21h-1zM948,194h1v1h-1zM951,185h1v7h-1zM955,175h1v8h-1zM967,188h1v4h-1zM970,132h1v54h-1zM982,180h1v5h-1zM985,176h1v3h-1zM993,166h1v13h-1zM1004,175h1v5h-1zM1016,169h1v14h-1zM1023,167h1v2h-1zM1031,167h1v4h-1zM1039,159h1v11h-1zM1050,190h1v16h-1zM1061,191h1v5h-1zM1077,195h1v24h-1zM1080,189h1v4h-1zM1111,202h1v1h-1zM1114,200h1v1h-1zM1126,192h1v12h-1zM1130,174h1v17h-1zM1171,224h1v1h-1zM1175,218h1v4h-1zM1183,213h1v7h-1zM1198,209h1v5h-1zM1221,216h1v5h-1zM1228,221h1v3h-1zM1232,210h1v10h-1zM1236,201h1v8h-1zM1247,203h1v4h-1zM1251,193h1v9h-1z" class="iu"/><path d="M26,197h1v6h-1zM41,188h1v14h-1zM60,194h1v7h-1zM68,202h1v3h-1zM72,206h1v6h-1zM117,138h1v27h-1zM125,162h1v3h-1zM140,124h1v15h-1zM155,123h1v9h-1zM159,133h1v23h-1zM170,156h1v21h-1zM189,133h1v48h-1zM208,174h1v2h-1zM223,154h1v9h-1zM227,165h1v10h-1zM235,178h1v24h-1zM238,203h1v11h-1zM242,216h1v26h-1zM254,241h1v17h-1zM265,249h1v12h-1zM273,253h1v8h-1zM284,233h1v2h-1zM288,236h1v8h-1zM291,245h1v2h-1zM303,219h1v2h-1zM314,215h1v2h-1zM318,218h1v15h-1zM322,234h1v11h-1zM326,247h1v52h-1zM329,300h1v16h-1zM341,297h1v12h-1zM345,311h1v3h-1zM352,306h1v147h-1zM356,455h1v124h-1zM367,487h1v3h-1zM371,492h1v25h-1zM379,497h1v6h-1zM382,504h1v59h-1zM398,505h1v12h-1zM417,403h1v34h-1zM420,439h1v5h-1zM432,442h1v24h-1zM451,396h1v17h-1zM458,402h1v5h-1zM466,397h1v9h-1zM470,407h1v18h-1zM474,427h1v8h-1zM481,435h1v8h-1zM485,444h1v19h-1zM504,422h1v9h-1zM523,377h1v20h-1zM527,398h1v1h-1zM534,388h1v5h-1zM553,349h1v9h-1zM565,351h1v13h-1zM572,357h1v29h-1zM595,386h1v9h-1zM610,388h1v6h-1zM614,395h1v12h-1zM625,370h1v2h-1zM629,373h1v3h-1zM640,359h1v6h-1zM644,366h1v2h-1zM648,369h1v12h-1zM652,382h1v8h-1zM709,319h1v1h-1zM728,239h1v15h-1zM735,226h1v12h-1zM750,223h1v10h-1zM754,234h1v16h-1zM773,201h1v12h-1zM784,150h1v5h-1zM788,157h1v7h-1zM792,166h1v11h-1zM796,179h1v6h-1zM800,186h1v60h-1zM811,233h1v26h-1zM838,166h1v15h-1zM841,182h1v20h-1zM849,196h1v1h-1zM860,177h1v2h-1zM876,167h1v3h-1zM879,172h1v15h-1zM883,189h1v9h-1zM887,199h1v22h-1zM906,214h1v4h-1zM910,219h1v29h-1zM921,235h1v2h-1zM944,183h1v13h-1zM959,175h1v6h-1zM963,183h1v9h-1zM974,132h1v10h-1zM978,144h1v41h-1zM989,176h1v3h-1zM997,166h1v7h-1zM1001,174h1v6h-1zM1012,176h1v7h-1zM1027,167h1v4h-1zM1035,167h1v3h-1zM1042,159h1v7h-1zM1046,167h1v39h-1zM1054,190h1v1h-1zM1058,192h1v4h-1zM1065,191h1v3h-1zM1069,195h1v6h-1zM1073,202h1v17h-1zM1088,187h1v3h-1zM1092,191h1v1h-1zM1099,195h1v3h-1zM1107,198h1v5h-1zM1122,200h1v4h-1zM1133,174h1v3h-1zM1141,180h1v23h-1zM1149,205h1v2h-1zM1156,209h1v4h-1zM1160,214h1v1h-1zM1168,215h1v10h-1zM1179,218h1v2h-1zM1187,213h1v1h-1zM1202,209h1v3h-1zM1205,213h1v6h-1zM1213,220h1v2h-1zM1224,216h1v8h-1zM1240,201h1v5h-1zM1255,193h1v3h-1z" class="id"/><line x1="970.3" y1="112.8" x2="1262.8" y2="207.6" class="tl"/><circle cx="30.3" cy="664.7" r="16.2" fill="#fff" stroke="#dcdce0" stroke-width="1"/><g transform="translate(19.60,658.10) scale(0.855)" fill="#2596ef"><circle cx="4.75" cy="10.15" r="4.75"/><circle cx="10.9" cy="5.6" r="5.6"/><circle cx="20.7" cy="9.7" r="5.2"/><rect x="4.5" y="8" width="16.4" height="6.9"/><path d="M1.1,13.1 L9.75,5.7 L16,11.3 L22.2,5.2" fill="none" stroke="#fff" stroke-width="1.1"/><circle cx="9.75" cy="5.7" r="1.75" fill="#fff"/><circle cx="16" cy="11.3" r="1.8" fill="#fff"/></g><path d="M6.5,43.5H1341.5V717.5H6.5Z M1281.5,43.5V717.5 M6.5,688.5H1341.5" class="fr"/><line x1="1282" y1="59.5" x2="1286" y2="59.5" class="tk"/><text x="1290.3" y="64.1" class="al">11200.0</text><line x1="1282" y1="89.5" x2="1286" y2="89.5" class="tk"/><text x="1290.3" y="94.1" class="al">10800.0</text><line x1="1282" y1="120.5" x2="1286" y2="120.5" class="tk"/><text x="1290.3" y="125.1" class="al">10400.0</text><line x1="1282" y1="150.5" x2="1286" y2="150.5" class="tk"/><text x="1290.3" y="155.1" class="al">10000.0</text><line x1="1282" y1="180.5" x2="1286" y2="180.5" class="tk"/><text x="1290.3" y="185.1" class="al">9600.0</text><line x1="1282" y1="211.5" x2="1286" y2="211.5" class="tk"/><text x="1290.3" y="216.1" class="al">9200.0</text><line x1="1282" y1="241.5" x2="1286" y2="241.5" class="tk"/><text x="1290.3" y="246.1" class="al">8800.0</text><line x1="1282" y1="271.5" x2="1286" y2="271.5" class="tk"/><text x="1290.3" y="276.1" class="al">8400.0</text><line x1="1282" y1="302.5" x2="1286" y2="302.5" class="tk"/><text x="1290.3" y="307.1" class="al">8000.0</text><line x1="1282" y1="332.5" x2="1286" y2="332.5" class="tk"/><text x="1290.3" y="337.1" class="al">7600.0</text><line x1="1282" y1="362.5" x2="1286" y2="362.5" class="tk"/><text x="1290.3" y="367.1" class="al">7200.0</text><line x1="1282" y1="393.5" x2="1286" y2="393.5" class="tk"/><text x="1290.3" y="398.1" class="al">6800.0</text><line x1="1282" y1="423.5" x2="1286" y2="423.5" class="tk"/><text x="1290.3" y="428.1" class="al">6400.0</text><line x1="1282" y1="453.5" x2="1286" y2="453.5" class="tk"/><text x="1290.3" y="458.1" class="al">6000.0</text><line x1="1282" y1="484.5" x2="1286" y2="484.5" class="tk"/><text x="1290.3" y="489.1" class="al">5600.0</text><line x1="1282" y1="514.5" x2="1286" y2="514.5" class="tk"/><text x="1290.3" y="519.1" class="al">5200.0</text><line x1="1282" y1="544.5" x2="1286" y2="544.5" class="tk"/><text x="1290.3" y="549.1" class="al">4800.0</text><line x1="1282" y1="575.5" x2="1286" y2="575.5" class="tk"/><text x="1290.3" y="580.1" class="al">4400.0</text><line x1="1282" y1="605.5" x2="1286" y2="605.5" class="tk"/><text x="1290.3" y="610.1" class="al">4000.0</text><line x1="1282" y1="635.5" x2="1286" y2="635.5" class="tk"/><text x="1290.3" y="640.1" class="al">3600.0</text><line x1="1282" y1="665.5" x2="1286" y2="665.5" class="tk"/><text x="1290.3" y="670.1" class="al">3200.0</text><rect x="1281" y="187" width="53" height="19" fill="#d1452c"/><line x1="1281" y1="196.5" x2="1285" y2="196.5" stroke="#fff" stroke-width="1"/><text x="1290.3" y="201" class="al" fill="#fff" style="fill:#fff">9393.5</text><line x1="49.5" y1="689" x2="49.5" y2="692" class="tk"/><text x="49.4" y="707.8" class="tl2 b" text-anchor="middle">Feb</text><line x1="170.5" y1="689" x2="170.5" y2="692" class="tk"/><text x="170.6" y="707.8" class="tl2" text-anchor="middle">17</text><line x1="269.5" y1="689" x2="269.5" y2="692" class="tk"/><text x="269.1" y="707.8" class="tl2 b" text-anchor="middle">Mar</text><line x1="382.5" y1="689" x2="382.5" y2="692" class="tk"/><text x="382.3" y="707.8" class="tl2" text-anchor="middle">16</text><line x1="504.5" y1="689" x2="504.5" y2="692" class="tk"/><text x="504.4" y="707.8" class="tl2 b" text-anchor="middle">Apr</text><line x1="595.5" y1="689" x2="595.5" y2="692" class="tk"/><text x="595.2" y="707.8" class="tl2" text-anchor="middle">13</text><line x1="731.5" y1="689" x2="731.5" y2="692" class="tk"/><text x="731.5" y="707.8" class="tl2 b" text-anchor="middle">May</text><line x1="860.5" y1="689" x2="860.5" y2="692" class="tk"/><text x="860.0" y="707.8" class="tl2" text-anchor="middle">18</text><line x1="967.5" y1="689" x2="967.5" y2="692" class="tk"/><text x="967.8" y="707.8" class="tl2 b" text-anchor="middle">Jun</text><line x1="1073.5" y1="689" x2="1073.5" y2="692" class="tk"/><text x="1073.5" y="707.8" class="tl2" text-anchor="middle">15</text><line x1="1194.5" y1="689" x2="1194.5" y2="692" class="tk"/><text x="1194.1" y="707.8" class="tl2 b" text-anchor="middle">Jul</text><g transform="translate(5.95,727.90) scale(1.000)" fill="#2596ef"><circle cx="4.75" cy="10.15" r="4.75"/><circle cx="10.9" cy="5.6" r="5.6"/><circle cx="20.7" cy="9.7" r="5.2"/><rect x="4.5" y="8" width="16.4" height="6.9"/><path d="M1.1,13.1 L9.75,5.7 L16,11.3 L22.2,5.2" fill="none" stroke="#fff" stroke-width="1.1"/><circle cx="9.75" cy="5.7" r="1.75" fill="#fff"/><circle cx="16" cy="11.3" r="1.8" fill="#fff"/></g></svg><svg width="1348" height="754" style="pointer-events:none"><path d="M179.6,25.6 H189.2 L184.4,34.2 Z" fill="#e0463b"/></svg><div class="hd hb" style="left:6.7px">BITMEX:XBTUSD, 720</div><div class="hd " style="left:138.0px">9393.5</div><div class="hd " style="left:193.6px">−49.5 (−0.52%)</div><div class="hd hb" style="left:282.6px">O:</div><div class="hd r" style="left:296.0px">9443.0</div><div class="hd hb" style="left:339.6px">H:</div><div class="hd r" style="left:353.8px">9443.5</div><div class="hd hb" style="left:396.1px">L:</div><div class="hd r" style="left:407.2px">9364.5</div><div class="hd hb" style="left:450.4px">C:</div><div class="hd r" style="left:462.8px">9393.5</div><div class="tv">TradingView</div></body></html>
